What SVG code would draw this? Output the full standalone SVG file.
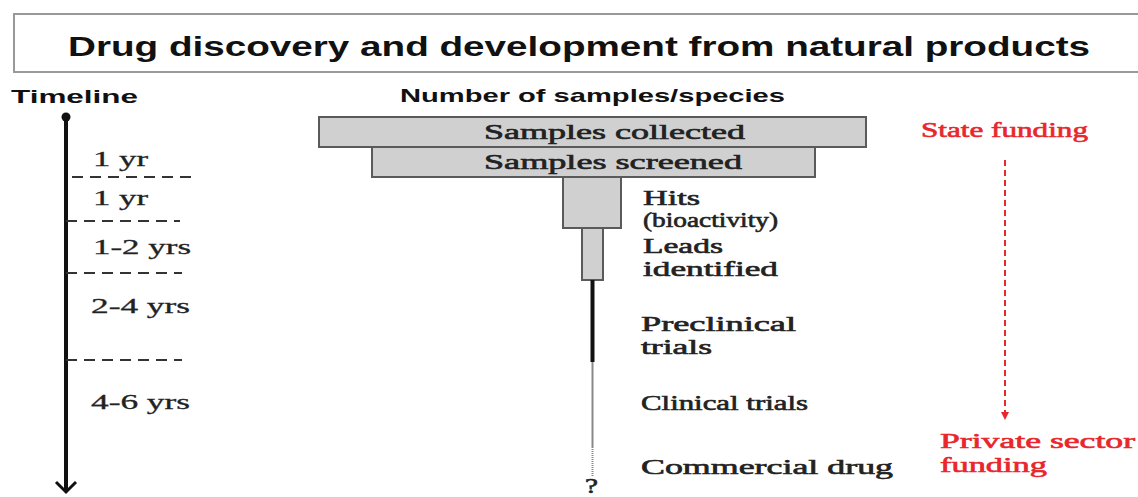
<svg xmlns="http://www.w3.org/2000/svg" width="1138" height="497" viewBox="0 0 1138 497">
  <style>
    .sans { font-family: "Liberation Sans", Arial, sans-serif; font-weight: bold; fill: #111; }
    .serif { font-family: "Liberation Serif", "Times New Roman", "DejaVu Serif", serif; font-weight: normal; fill: #222; }
    .lbl { font-size: 21px; stroke: #222; stroke-width: 0.6; }
    .yr { font-size: 21px; stroke: #222; stroke-width: 0.3; }
    .red { fill: #e8262c; stroke: #e8262c; stroke-width: 0.6; font-size: 21px; }
    .bar { fill: #d0d0d0; stroke: #5a5a5a; stroke-width: 2; }
    .tick { stroke: #333; stroke-width: 2; stroke-dasharray: 11 7; fill: none; }
  </style>
  <defs>
    <marker id="redHead" markerWidth="8" markerHeight="8" refX="4" refY="4" orient="auto" markerUnits="userSpaceOnUse">
      <path d="M0,0 L8,4 L0,8 z" fill="#e8262c"/>
    </marker>
  </defs>

  <rect width="1138" height="497" fill="#ffffff"/>

  <!-- title -->
  <g id="title">
    <rect x="14" y="14" width="1130" height="58" fill="#fff" stroke="#999" stroke-width="2"/>
    <text class="sans" x="68" y="56" font-size="28" textLength="1022" lengthAdjust="spacingAndGlyphs">Drug discovery and development from natural products</text>
  </g>

  <!-- column headings -->
  <text class="sans" x="11" y="103" font-size="19" textLength="127" lengthAdjust="spacingAndGlyphs">Timeline</text>
  <text class="sans" x="400" y="102" font-size="19" textLength="385" lengthAdjust="spacingAndGlyphs">Number of samples/species</text>

  <!-- timeline axis -->
  <g id="timeline">
    <line x1="66" y1="117" x2="66" y2="490" stroke="#111" stroke-width="4"/>
    <circle cx="66" cy="117" r="4.5" fill="#111"/>
    <path d="M56,482 L66,492 L76,482" fill="none" stroke="#111" stroke-width="3"/>
    <line class="tick" x1="72" y1="177" x2="192" y2="177"/>
    <line class="tick" x1="66" y1="221" x2="180" y2="221"/>
    <line class="tick" x1="66" y1="273" x2="182" y2="273"/>
    <line class="tick" x1="66" y1="360" x2="182" y2="360"/>
    <text class="serif yr" x="93" y="166" textLength="55" lengthAdjust="spacingAndGlyphs">1 yr</text>
    <text class="serif yr" x="93" y="205" textLength="55" lengthAdjust="spacingAndGlyphs">1 yr</text>
    <text class="serif yr" x="93" y="254" textLength="98" lengthAdjust="spacingAndGlyphs">1-2 yrs</text>
    <text class="serif yr" x="91" y="313" textLength="99" lengthAdjust="spacingAndGlyphs">2-4 yrs</text>
    <text class="serif yr" x="91" y="409" textLength="99" lengthAdjust="spacingAndGlyphs">4-6 yrs</text>
  </g>

  <!-- funnel stages -->
  <g id="collected">
    <rect class="bar" x="319" y="117" width="547" height="30"/>
    <text class="serif lbl" x="484" y="139" textLength="261" lengthAdjust="spacingAndGlyphs">Samples collected</text>
  </g>
  <g id="screened">
    <rect class="bar" x="372" y="147" width="443" height="30"/>
    <text class="serif lbl" x="484" y="169" textLength="258" lengthAdjust="spacingAndGlyphs">Samples screened</text>
  </g>
  <g id="hits">
    <rect class="bar" x="563" y="177" width="58" height="51"/>
    <text class="serif lbl" x="643" y="205" textLength="57" lengthAdjust="spacingAndGlyphs">Hits</text>
    <text class="serif lbl" x="643" y="227" textLength="135" lengthAdjust="spacingAndGlyphs">(bioactivity)</text>
  </g>
  <g id="leads">
    <rect class="bar" x="582" y="228" width="21" height="52"/>
    <text class="serif lbl" x="643" y="253" textLength="80" lengthAdjust="spacingAndGlyphs">Leads</text>
    <text class="serif lbl" x="643" y="276" textLength="135" lengthAdjust="spacingAndGlyphs">identified</text>
  </g>
  <g id="preclinical">
    <line x1="592.5" y1="280" x2="592.5" y2="362" stroke="#111" stroke-width="4"/>
    <text class="serif lbl" x="641" y="331" textLength="155" lengthAdjust="spacingAndGlyphs">Preclinical</text>
    <text class="serif lbl" x="641" y="354" textLength="71" lengthAdjust="spacingAndGlyphs">trials</text>
  </g>
  <g id="clinical">
    <line x1="592.5" y1="362" x2="592.5" y2="447" stroke="#888" stroke-width="2"/>
    <text class="serif lbl" x="641" y="410" textLength="167" lengthAdjust="spacingAndGlyphs">Clinical trials</text>
  </g>
  <g id="commercial">
    <line x1="592.5" y1="447" x2="592.5" y2="477" stroke="#888" stroke-width="2" stroke-dasharray="1 1"/>
    <text class="serif lbl" x="585" y="493" font-size="17" textLength="13" lengthAdjust="spacingAndGlyphs">?</text>
    <text class="serif lbl" x="641" y="474" textLength="252" lengthAdjust="spacingAndGlyphs">Commercial drug</text>
  </g>

  <!-- funding -->
  <g id="state-funding">
    <text class="serif red" x="921" y="137" textLength="167" lengthAdjust="spacingAndGlyphs">State funding</text>
  </g>
  <g id="private-funding">
    <text class="serif red" x="940" y="448" textLength="195" lengthAdjust="spacingAndGlyphs">Private sector</text>
    <text class="serif red" x="940" y="472" textLength="107" lengthAdjust="spacingAndGlyphs">funding</text>
  </g>
  <g id="connectors">
    <line x1="1005" y1="160" x2="1005" y2="416" stroke="#e8262c" stroke-width="2" stroke-dasharray="6 4" marker-end="url(#redHead)"/>
  </g>
</svg>
